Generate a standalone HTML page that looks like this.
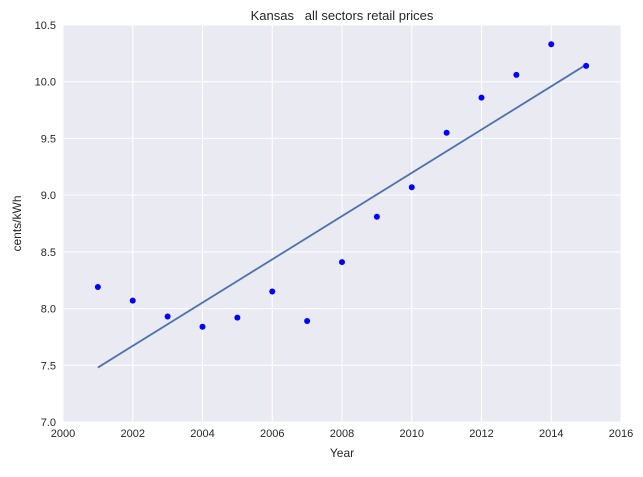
<!DOCTYPE html>
<html><head><meta charset="utf-8"><style>
body{margin:0;background:#fff;font-family:"Liberation Sans",sans-serif;}
</style></head><body>
<svg id="chart" width="643" height="472" xmlns="http://www.w3.org/2000/svg" font-family="Liberation Sans, sans-serif"></svg>
<script>
const years=[2001,2002,2003,2004,2005,2006,2007,2008,2009,2010,2011,2012,2013,2014,2015];
const prices=[8.19,8.07,7.93,7.84,7.92,8.15,7.89,8.41,8.81,9.07,9.55,9.86,10.06,10.33,10.14];
const fitYears=[2001,2015];
const fitValues=[7.48,10.15];
const xTicks=[2000,2002,2004,2006,2008,2010,2012,2014,2016];
const yTicks=[7.0,7.5,8.0,8.5,9.0,9.5,10.0,10.5];

const L=63,R=621,T=25,B=422;
const xs=v=>L+(v-2000)/16*(R-L);
const ys=v=>B-(v-7)/3.5*(B-T);
const svg=document.getElementById('chart');
const NS='http://www.w3.org/2000/svg';
function mk(tag,attrs,parent){const e=document.createElementNS(NS,tag);for(const k in attrs)e.setAttribute(k,attrs[k]);(parent||svg).appendChild(e);return e;}

const bg=mk('rect',{x:L,y:T,width:R-L,height:B-T,fill:'#eaeaf2'});



xTicks.forEach(t=>{
  const g=mk('line',{x1:xs(t),x2:xs(t),y1:T,y2:B,stroke:'#fff','stroke-width':1});
  
  
  const tx=mk('text',{x:xs(t),y:B+15,'text-anchor':'middle','font-size':11,fill:'#262626'});
  tx.textContent=t;
  
  
});
yTicks.forEach(t=>{
  const g=mk('line',{x1:L,x2:R,y1:ys(t),y2:ys(t),stroke:'#fff','stroke-width':1});
  
  
  const tx=mk('text',{x:L-7,y:ys(t)+4,'text-anchor':'end','font-size':11,fill:'#262626'});
  tx.textContent=t.toFixed(1);
  
  
});

const fit=mk('line',{x1:xs(fitYears[0]),y1:ys(fitValues[0]),x2:xs(fitYears[1]),y2:ys(fitValues[1]),stroke:'#4c72b0','stroke-width':1.8});



years.forEach((y,i)=>{
  const c=mk('circle',{cx:xs(y),cy:ys(prices[i]),r:3,fill:'#0000ff'});
  
  
});

const title=mk('text',{x:(L+R)/2,y:20,'text-anchor':'middle','font-size':13,fill:'#262626',style:'white-space:pre'});
title.textContent='Kansas   all sectors retail prices';



const xl=mk('text',{x:(L+R)/2,y:B+35,'text-anchor':'middle','font-size':12,fill:'#262626'});
xl.textContent='Year';



const yl=mk('text',{x:0,y:0,'text-anchor':'middle','font-size':12,fill:'#262626',transform:`translate(21,${(T+B)/2}) rotate(-90)`});
yl.textContent='cents/kWh';


</script>
</body></html>
